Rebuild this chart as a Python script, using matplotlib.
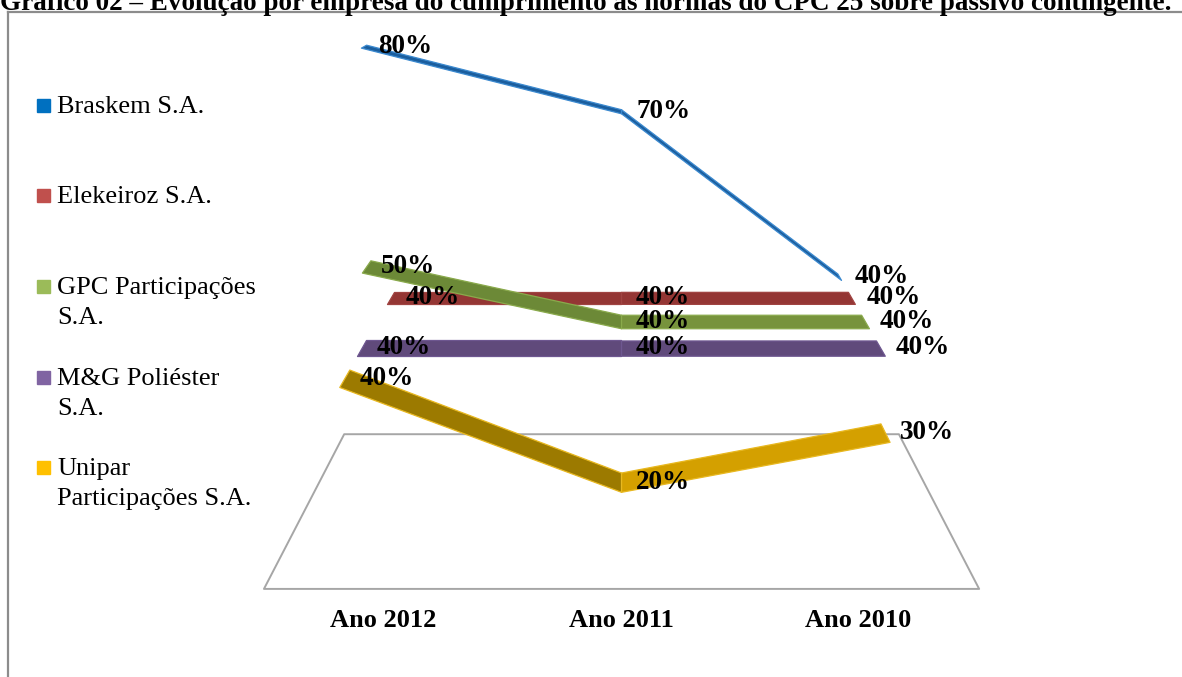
import matplotlib.pyplot as plt
from matplotlib.lines import Line2D
from matplotlib.patches import Rectangle
from matplotlib.transforms import offset_copy
from mpl_toolkits.mplot3d.art3d import Poly3DCollection

plt.rcParams['font.family'] = ['Liberation Serif', 'DejaVu Serif']

titulo = ('Gráfico 02 – Evolução por empresa do cumprimento às normas '
          'do CPC 25 sobre passivo contingente.')
anos = ['Ano 2012', 'Ano 2011', 'Ano 2010']
empresas = ['Braskem S.A.', 'Elekeiroz S.A.', 'GPC Participações\nS.A.',
            'M&G Poliéster\nS.A.', 'Unipar\nParticipações S.A.']
braskem = [80, 70, 40]
elekeiroz = [40, 40, 40]
gpc = [50, 40, 40]
mg = [40, 40, 40]
unipar = [40, 20, 30]
series = [braskem, elekeiroz, gpc, mg, unipar]

cores_legenda = ['#0070C0', '#C0504D', '#9BBB59', '#8064A2', '#FFC000']
cores_fita = ['#1B5E9E', '#943634', '#77933C', '#604A7B', '#D4A000']
cores_desce = ['#1B5E9E', '#8A3230', '#6C8937', '#56436F', '#9C7A00']
cores_borda = ['#3C8AD0', '#A04442', '#8AAA4C', '#6E5790', '#E8B820']
espessura = [0.16, 0.27, 0.27, 0.27, 0.27]

W, H = 1182, 677
fig = plt.figure(figsize=(W / 100, H / 100), dpi=100)

# moldura (cortada na imagem original)
fig.add_artist(Line2D([8 / W, 1], [1 - 12 / H, 1 - 12 / H], color='#8c8c8c', lw=1.6))
fig.add_artist(Line2D([8 / W, 8 / W], [0, 1 - 12 / H], color='#8c8c8c', lw=1.6))
fig.text(0.0, 1 - 10 / H, titulo, fontsize=19.5, fontweight='bold',
         ha='left', va='baseline')

# grafico de linhas 3D em perspectiva
ax = fig.add_axes([0.1446, -0.1199, 0.7416, 1.2947], projection='3d')
ax.set_proj_type('persp', focal_length=0.1506)
ax.view_init(elev=29.83, azim=-90)
ax.set_xlim(-0.4, 2.4)
ax.set_ylim(-0.5, 4.5)
ax.set_zlim(0, 85)
ax.set_box_aspect((2.8, 0.998, 2.1388))
ax.set_axis_off()
ax.computed_zorder = False

# chao
chao = Poly3DCollection([[(-0.5, -0.5, 0), (2.5, -0.5, 0), (2.5, 4.5, 0), (-0.5, 4.5, 0)]],
                        facecolor=(1, 1, 1, 0), edgecolor='#a6a6a6', linewidth=1.4,
                        zorder=1)
ax.add_collection3d(chao)

desloc = offset_copy(ax.transData, fig=fig, x=15, y=0, units='dots')
n = len(series)
for i, vals in enumerate(series):
    d = n - 1 - i  # Braskem ao fundo, Unipar na frente
    t = espessura[i]
    for j in range(len(vals) - 1):
        v0, v1 = vals[j], vals[j + 1]
        quad = [(j, d - t, v0), (j + 1, d - t, v1), (j + 1, d + t, v1), (j, d + t, v0)]
        cor = cores_desce[i] if v1 < v0 else cores_fita[i]
        pc = Poly3DCollection([quad], facecolor=cor, edgecolor=cores_borda[i],
                              linewidth=0.9, zorder=2 + i)
        ax.add_collection3d(pc)
    for j, v in enumerate(vals):
        ax.text(j, d, v, f'{v}%', fontsize=19.5, fontweight='bold',
                ha='left', va='center', zorder=100, transform=desloc)

for j, ano in enumerate(anos):
    ax.text(j, -0.8, -5, ano, fontsize=19, fontweight='bold', ha='center',
            va='center', zorder=100)

# legenda
for i, nome in enumerate(empresas):
    yc = 1 - (105 + 90.5 * i) / H
    fig.add_artist(Rectangle((37 / W, yc - 7 / H), 13 / W, 13 / H,
                             color=cores_legenda[i], transform=fig.transFigure))
    fig.text(57 / W, yc + 9 / H, nome, fontsize=19, ha='left', va='top',
             linespacing=1.5)

fig.savefig('out.png', dpi=100)
